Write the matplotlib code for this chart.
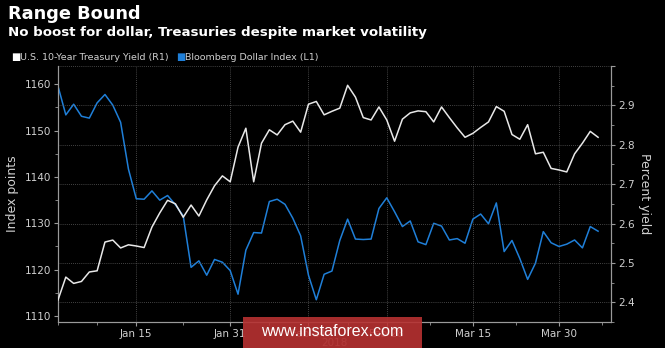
import pandas as pd
import matplotlib
matplotlib.use('Agg')
import matplotlib.pyplot as plt
from matplotlib.patches import Rectangle
from matplotlib.ticker import FixedLocator, MultipleLocator

# Weekday series, Jan 1 - Apr 6 2018 (Bloomberg plots on a weekday axis)
dates = pd.bdate_range('2018-01-01', '2018-04-06')

# U.S. 10-Year Treasury Yield, percent (right axis)
yield_pct = [
    2.406, 2.464, 2.448, 2.453, 2.477, 2.480, 2.553, 2.558, 2.538, 2.546,
    2.543, 2.539, 2.591, 2.627, 2.659, 2.650, 2.616, 2.647, 2.619, 2.660,
    2.696, 2.721, 2.706, 2.794, 2.842, 2.706, 2.804, 2.838, 2.825, 2.851,
    2.860, 2.832, 2.903, 2.910, 2.876, 2.885, 2.893, 2.951, 2.921, 2.869,
    2.863, 2.896, 2.863, 2.809, 2.865, 2.881, 2.886, 2.884, 2.858, 2.896,
    2.869, 2.843, 2.819, 2.829, 2.844, 2.858, 2.897, 2.885, 2.826, 2.814,
    2.851, 2.777, 2.781, 2.740, 2.736, 2.731, 2.777, 2.804, 2.834, 2.819,
]

# Bloomberg Dollar Index, index points (left axis)
dollar_idx = [
    1159.6, 1153.4, 1155.7, 1153.1, 1152.7, 1156.0, 1157.8, 1155.5, 1151.8, 1141.7,
    1135.3, 1135.2, 1137.0, 1135.0, 1136.0, 1134.0, 1131.6, 1120.5, 1121.9, 1118.8,
    1122.2, 1121.6, 1119.8, 1114.7, 1124.2, 1128.0, 1127.9, 1134.7, 1135.2, 1134.1,
    1131.1, 1127.3, 1118.8, 1113.5, 1119.0, 1119.7, 1126.3, 1130.9, 1126.6, 1126.5,
    1126.6, 1133.2, 1135.5, 1132.5, 1129.3, 1130.5, 1126.0, 1125.4, 1130.0, 1129.4,
    1126.4, 1126.7, 1125.7, 1130.9, 1132.0, 1129.9, 1134.4, 1123.9, 1126.3, 1122.4,
    1117.9, 1121.4, 1128.2, 1125.8, 1125.0, 1125.5, 1126.4, 1124.7, 1129.3, 1128.3,
]

tick_dates = ['2018-01-15', '2018-01-31', '2018-02-14', '2018-02-28', '2018-03-15', '2018-03-30']
tick_labels = ['Jan 15', 'Jan 31', 'Feb 14', 'Feb 28', 'Mar 15', 'Mar 30']

TXT = '#d0d0d0'
AXC = '#9a9a9a'
GRID = '#5a5a5a'
BLUE = '#1f7fd8'
WHITE = '#e8e8e8'

plt.rcParams['font.family'] = ['DejaVu Sans']

fig = plt.figure(figsize=(6.65, 3.48), dpi=100, facecolor='black')
ax = fig.add_axes([58 / 665, 1 - 322 / 348, 553 / 665, 256 / 348])
ax.set_facecolor('black')
ax2 = ax.twinx()

x = list(range(len(dates)))
ax.plot(x, dollar_idx, color=BLUE, lw=1.1, zorder=3)
ax2.plot(x, yield_pct, color=WHITE, lw=1.1, zorder=3)

ax.set_xlim(0, 70.65)
ax.set_ylim(1108.7, 1163.95)
ax2.set_ylim(2.35, 3.0)

# x ticks on weekday positions
pos = [dates.get_loc(pd.Timestamp(d)) for d in tick_dates]
ax.set_xticks(pos)
ax.set_xticklabels(tick_labels)
edges = [0] + pos + [75]
minor = [(a + b) / 2 for a, b in zip(edges[:-1], edges[1:])]
ax.xaxis.set_minor_locator(FixedLocator([0] + minor))

ax.yaxis.set_major_locator(FixedLocator([1110, 1120, 1130, 1140, 1150, 1160]))
ax.yaxis.set_minor_locator(MultipleLocator(5))
ax2.yaxis.set_major_locator(FixedLocator([2.4, 2.5, 2.6, 2.7, 2.8, 2.9, 3.0]))
ax2.yaxis.set_minor_locator(MultipleLocator(0.05))
ax2.set_yticklabels(['2.4', '2.5', '2.6', '2.7', '2.8', '2.9', ''])

for a in (ax, ax2):
    a.tick_params(which='both', colors=AXC, labelcolor=TXT, labelsize=7.5, direction='out')
    a.tick_params(which='major', length=3, width=0.8, pad=2)
    a.tick_params(which='minor', length=2, width=0.6)
    for s in a.spines.values():
        s.set_color(AXC)
        s.set_linewidth(0.8)
    a.spines['top'].set_visible(False)

ax.grid(axis='x', which='major', color=GRID, ls=(0, (1, 1.5)), lw=0.6)
ax2.grid(axis='y', which='major', color=GRID, ls=(0, (1, 1.5)), lw=0.6)
ax.set_axisbelow(True)
ax2.set_axisbelow(True)

ax.set_ylabel('Index points', color=TXT, fontsize=9, labelpad=4)
ax2.set_ylabel('Percent yield', color=TXT, fontsize=9, rotation=270, labelpad=12)

# titles
fig.text(8 / 665, 1 - 5 / 348, 'Range Bound', color='white', fontsize=12.8,
         fontweight='bold', va='top', ha='left')
fig.text(8 / 665, 1 - 26 / 348, 'No boost for dollar, Treasuries despite market volatility',
         color='white', fontsize=9.6, fontweight='bold', va='top', ha='left')

# legend
ly = 1 - 57 / 348
fig.text(11 / 665, ly, '\u25a0', color='white', fontsize=7, va='center', ha='left')
fig.text(20 / 665, ly, 'U.S. 10-Year Treasury Yield (R1)', color=TXT, fontsize=6.8,
         va='center', ha='left')
fig.text(176 / 665, ly, '\u25a0', color=BLUE, fontsize=7, va='center', ha='left')
fig.text(185 / 665, ly, 'Bloomberg Dollar Index (L1)', color=TXT, fontsize=6.8,
         va='center', ha='left')

fig.text(334 / 665, 1 - 343 / 348, '2018', color='#808080', fontsize=7.5,
         va='center', ha='center')

# watermark
fig.patches.append(Rectangle((243 / 665, 0), 179 / 665, 31 / 348,
                             transform=fig.transFigure, fc='#b83232', ec='none',
                             alpha=0.9, zorder=5))
fig.text(332 / 665, 1 - 332 / 348, 'www.instaforex.com', color='white',
         fontsize=11.5, family='Liberation Sans', va='center', ha='center', zorder=6)

fig.savefig('out.png', dpi=100, facecolor='black')
